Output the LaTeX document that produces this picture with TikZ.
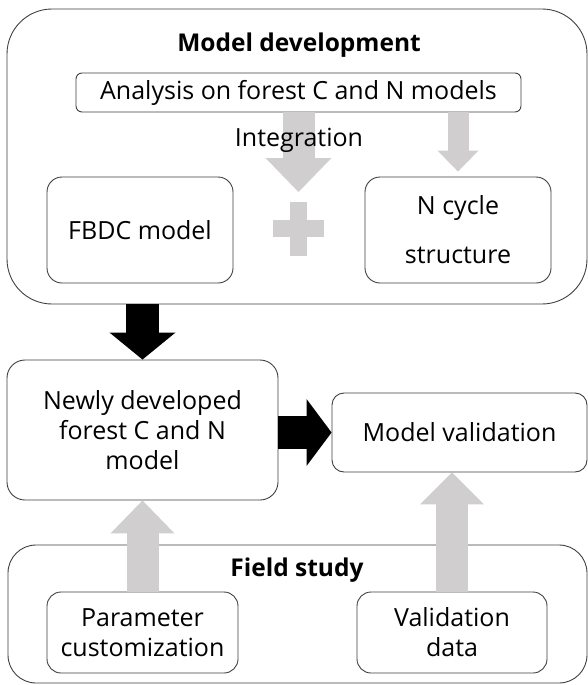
\documentclass[tikz,border=0pt]{standalone}
\usepackage{fontspec}
\setmainfont{Open Sans}
\usepackage{tikz}
\usetikzlibrary{arrows.meta}
\usepackage{xcolor}
\definecolor{boxline}{HTML}{3F3F3F}
\definecolor{flowgray}{HTML}{D0CECE}

\tikzset{
  box/.style={draw=boxline,line width=0.9pt,align=center,inner sep=0pt,font=\fontsize{25}{30}\selectfont},
  frame/.style={draw=boxline,line width=0.9pt,inner sep=0pt},
  title/.style={font=\fontsize{24.5}{28}\selectfont\bfseries},
  blackflow/.style={line width=33pt,black},
  grayflow/.style={line width=32pt,flowgray}
}

\begin{document}
\begin{tikzpicture}[x=1pt,y=-1pt,line cap=butt]
\useasboundingbox (0,0) rectangle (588,685);
% outer frames
\node[frame,rounded corners=45,minimum width=580,minimum height=295] (dev) at (297,156.5) {};
\node[frame,rounded corners=28,minimum width=579,minimum height=138] (field) at (297.5,614) {};
\node[title] (devtitle) at (299,45) {Model development};
\node[title] (fieldtitle) at (297,570) {Field study};
% boxes
\node[box,rounded corners=6,minimum width=445,minimum height=39] (ana) at (298.5,92.5) {Analysis on forest C and N models};
\node[box,rounded corners=15,minimum width=186,minimum height=106] (fbdc) at (140,230) {FBDC model};
\node[box,rounded corners=15,minimum width=186,minimum height=106,font=\fontsize{25}{49}\selectfont] (ncyc) at (458,230) {N cycle\\structure};
\node[box,rounded corners=18,minimum width=271,minimum height=140] (new) at (142.5,430) {Newly developed\\forest C and N\\model};
\node[box,rounded corners=12,minimum width=255,minimum height=79] (modval) at (459.5,432.5) {Model validation};
\node[box,rounded corners=14,minimum width=191,minimum height=81] (param) at (142.5,632.5) {Parameter\\customization};
\node[box,rounded corners=14,minimum width=190,minimum height=81] (valdata) at (452,632.5) {Validation\\data};
% integration
\coordinate (plus) at (298.5,228.5);
\coordinate (mergetip) at (298.5,192);
\draw[grayflow,-{Triangle[length=34pt,width=66pt,line width=0pt]}] (ana.south) -- (mergetip);
\draw[line width=21pt,flowgray,-{Triangle[length=21pt,width=41pt,line width=0pt]},shorten >=5pt] (ncyc.north |- ana.south) -- (ncyc.north);
\fill[flowgray] (plus) ++(-25.5,-8.5) rectangle ++(51,17);
\fill[flowgray] (plus) ++(-8.5,-27) rectangle ++(17,54);
\node[font=\fontsize{25}{30}\selectfont] (integ) at (299,140) {Integration};
% flows
\draw[blackflow,-{Triangle[length=27pt,width=66pt,line width=0pt]}] (new.north |- dev.south) -- (new.north);
\draw[blackflow,-{Triangle[length=25pt,width=67pt,line width=0pt]}] (modval.west -| new.east) -- (modval.west);
\draw[grayflow,-{Triangle[length=33pt,width=64pt,line width=0pt]}] (param.north) -- (new.south);
\draw[grayflow,-{Triangle[length=32pt,width=64pt,line width=0pt]}] (valdata.north) -- (valdata.north |- modval.south);
\end{tikzpicture}
\end{document}
